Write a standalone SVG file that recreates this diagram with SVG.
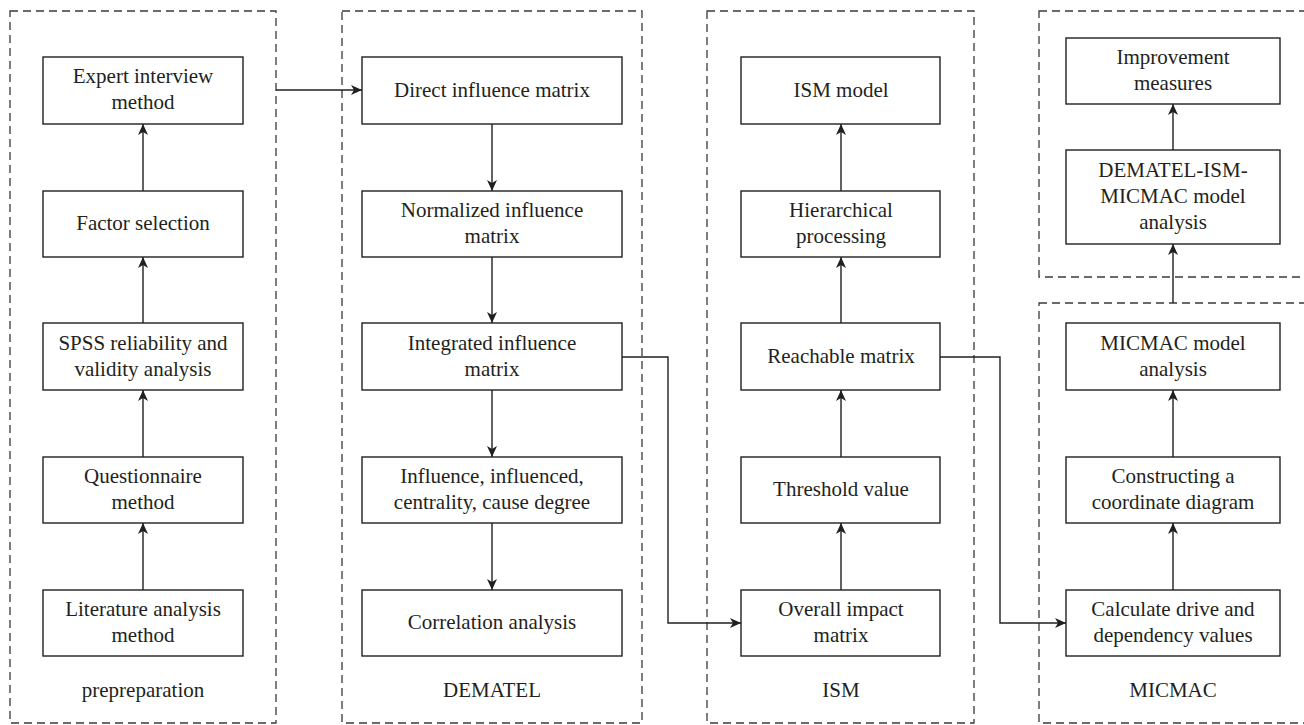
<svg xmlns="http://www.w3.org/2000/svg" width="1304" height="725" viewBox="0 0 1304 725">
<style>
.panel{fill:none;stroke:#3a3a3a;stroke-width:1.3;stroke-dasharray:8,5}
.box{fill:#fff;stroke:#231f20;stroke-width:1.4}
.t{font-family:"Liberation Serif","Times New Roman",serif;font-size:21px;fill:#231f20;text-anchor:middle}
.c{fill:none;stroke:#231f20;stroke-width:1.4}
</style>
<defs>
<marker id="ah" markerWidth="12" markerHeight="10" refX="11" refY="5" orient="auto" markerUnits="userSpaceOnUse">
<path d="M0,0 L11,5 L0,10 L3,5 Z" fill="#231f20"/>
</marker>
</defs>
<rect width="1304" height="725" fill="#fff"/>
<g id="panels">
<rect class="panel" x="10" y="11" width="266" height="712"/>
<rect class="panel" x="342" y="11" width="300" height="712"/>
<rect class="panel" x="707" y="11" width="267" height="712"/>
<rect class="panel" x="1039" y="11" width="290" height="266"/>
<rect class="panel" x="1039" y="303" width="290" height="420"/>
<text class="t" x="143" y="697">prepreparation</text>
<text class="t" x="492" y="697">DEMATEL</text>
<text class="t" x="841" y="697">ISM</text>
<text class="t" x="1173" y="697">MICMAC</text>
</g>
<g id="connectors">
<line class="c" x1="143" y1="191" x2="143" y2="124" marker-end="url(#ah)"/>
<line class="c" x1="143" y1="323" x2="143" y2="257" marker-end="url(#ah)"/>
<line class="c" x1="143" y1="457" x2="143" y2="390" marker-end="url(#ah)"/>
<line class="c" x1="143" y1="590" x2="143" y2="523" marker-end="url(#ah)"/>
<line class="c" x1="276" y1="90" x2="362" y2="90" marker-end="url(#ah)"/>
<line class="c" x1="492" y1="124" x2="492" y2="191" marker-end="url(#ah)"/>
<line class="c" x1="492" y1="257" x2="492" y2="323" marker-end="url(#ah)"/>
<line class="c" x1="492" y1="390" x2="492" y2="457" marker-end="url(#ah)"/>
<line class="c" x1="492" y1="523" x2="492" y2="590" marker-end="url(#ah)"/>
<polyline class="c" points="622,357 668,357 668,623 741,623" marker-end="url(#ah)"/>
<line class="c" x1="841" y1="191" x2="841" y2="124" marker-end="url(#ah)"/>
<line class="c" x1="841" y1="323" x2="841" y2="257" marker-end="url(#ah)"/>
<line class="c" x1="841" y1="457" x2="841" y2="390" marker-end="url(#ah)"/>
<line class="c" x1="841" y1="590" x2="841" y2="523" marker-end="url(#ah)"/>
<polyline class="c" points="940,357 1000,357 1000,623 1066,623" marker-end="url(#ah)"/>
<line class="c" x1="1173" y1="590" x2="1173" y2="523" marker-end="url(#ah)"/>
<line class="c" x1="1173" y1="457" x2="1173" y2="390" marker-end="url(#ah)"/>
<line class="c" x1="1173" y1="303" x2="1173" y2="244" marker-end="url(#ah)"/>
<line class="c" x1="1173" y1="150" x2="1173" y2="104" marker-end="url(#ah)"/>
</g>
<g id="expert"><rect class="box" x="43" y="57" width="200" height="67"/><text class="t" x="143" y="83">Expert interview</text><text class="t" x="143" y="109">method</text></g>
<g id="factor"><rect class="box" x="43" y="191" width="200" height="66"/><text class="t" x="143" y="230">Factor selection</text></g>
<g id="spss"><rect class="box" x="43" y="323" width="200" height="67"/><text class="t" x="143" y="350">SPSS reliability and</text><text class="t" x="143" y="376">validity analysis</text></g>
<g id="questionnaire"><rect class="box" x="43" y="457" width="200" height="66"/><text class="t" x="143" y="483">Questionnaire</text><text class="t" x="143" y="509">method</text></g>
<g id="literature"><rect class="box" x="43" y="590" width="200" height="66"/><text class="t" x="143" y="616">Literature analysis</text><text class="t" x="143" y="642">method</text></g>
<g id="direct"><rect class="box" x="362" y="57" width="260" height="67"/><text class="t" x="492" y="97">Direct influence matrix</text></g>
<g id="normalized"><rect class="box" x="362" y="191" width="260" height="66"/><text class="t" x="492" y="217">Normalized influence</text><text class="t" x="492" y="243">matrix</text></g>
<g id="integrated"><rect class="box" x="362" y="323" width="260" height="67"/><text class="t" x="492" y="350">Integrated influence</text><text class="t" x="492" y="376">matrix</text></g>
<g id="influence"><rect class="box" x="362" y="457" width="260" height="66"/><text class="t" x="492" y="483">Influence, influenced,</text><text class="t" x="492" y="509">centrality, cause degree</text></g>
<g id="correlation"><rect class="box" x="362" y="590" width="260" height="66"/><text class="t" x="492" y="629">Correlation analysis</text></g>
<g id="ismmodel"><rect class="box" x="741" y="57" width="199" height="67"/><text class="t" x="841" y="97">ISM model</text></g>
<g id="hierarchical"><rect class="box" x="741" y="191" width="199" height="66"/><text class="t" x="841" y="217">Hierarchical</text><text class="t" x="841" y="243">processing</text></g>
<g id="reachable"><rect class="box" x="741" y="323" width="199" height="67"/><text class="t" x="841" y="363">Reachable matrix</text></g>
<g id="threshold"><rect class="box" x="741" y="457" width="199" height="66"/><text class="t" x="841" y="496">Threshold value</text></g>
<g id="overall"><rect class="box" x="741" y="590" width="199" height="66"/><text class="t" x="841" y="616">Overall impact</text><text class="t" x="841" y="642">matrix</text></g>
<g id="improvement"><rect class="box" x="1066" y="38" width="214" height="66"/><text class="t" x="1173" y="64">Improvement</text><text class="t" x="1173" y="90">measures</text></g>
<g id="dematelism"><rect class="box" x="1066" y="150" width="214" height="94"/><text class="t" x="1173" y="177">DEMATEL-ISM-</text><text class="t" x="1173" y="203">MICMAC model</text><text class="t" x="1173" y="229">analysis</text></g>
<g id="micmacmodel"><rect class="box" x="1066" y="323" width="214" height="67"/><text class="t" x="1173" y="350">MICMAC model</text><text class="t" x="1173" y="376">analysis</text></g>
<g id="constructing"><rect class="box" x="1066" y="457" width="214" height="66"/><text class="t" x="1173" y="483">Constructing a</text><text class="t" x="1173" y="509">coordinate diagram</text></g>
<g id="calculate"><rect class="box" x="1066" y="590" width="214" height="66"/><text class="t" x="1173" y="616">Calculate drive and</text><text class="t" x="1173" y="642">dependency values</text></g>
</svg>
